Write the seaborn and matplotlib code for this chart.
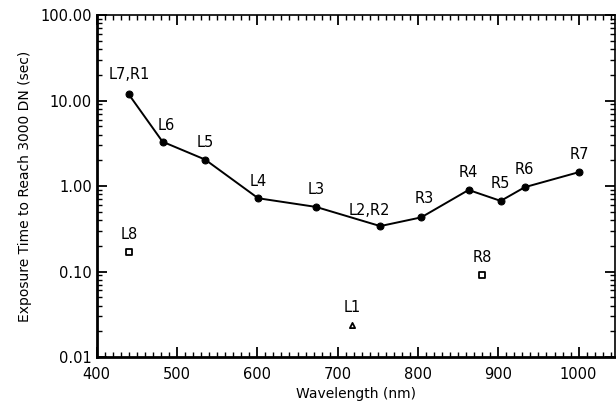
import numpy as np
import pandas as pd
import matplotlib
matplotlib.use("Agg")
import matplotlib.pyplot as plt
import seaborn as sns
from matplotlib.ticker import FixedLocator, MultipleLocator, FormatStrFormatter, LogLocator, NullFormatter

sns.set_style("ticks", {"axes.edgecolor": "black", "text.color": "black",
                        "xtick.color": "black", "ytick.color": "black",
                        "axes.labelcolor": "black"})
plt.rcParams["font.family"] = ["DejaVu Sans"]

# Filters on the main curve
line_labels = ["L7,R1", "L6", "L5", "L4", "L3", "L2,R2", "R3", "R4", "R5", "R6", "R7"]
line_wave = [440, 482, 535, 601, 673, 753, 804, 863, 903, 933, 1001]
line_time = [11.8, 3.3, 2.04, 0.72, 0.57, 0.34, 0.43, 0.90, 0.67, 0.97, 1.46]

# Isolated filters
extra_labels = ["L8", "L1", "R8"]
extra_wave = [440, 718, 880]
extra_time = [0.17, 0.024, 0.092]
extra_marker = ["s", "^", "s"]

df_line = pd.DataFrame({"wave": line_wave, "time": line_time, "label": line_labels})
df_extra = pd.DataFrame({"wave": extra_wave, "time": extra_time, "label": extra_labels,
                         "marker": extra_marker})

fig = plt.figure(figsize=(6.16, 4.08), dpi=100)
ax = fig.add_axes([0.157, 0.125, 0.841, 0.838])

sns.lineplot(data=df_line, x="wave", y="time", color="black", linewidth=1.4,
             marker="o", markersize=5, markeredgecolor="black", ax=ax)
for _, r in df_extra.iterrows():
    sns.scatterplot(x=[r["wave"]], y=[r["time"]], marker=r["marker"], s=14,
                    facecolor="white", edgecolor="black", linewidth=1.3, ax=ax)

ax.set_yscale("log")
ax.set_xlim(400, 1045)
ax.set_ylim(0.01, 100)

# point labels
offsets = {"L7,R1": (0, 9), "L6": (3, 6), "L2,R2": (-8, 6), "R3": (2, 8)}
for _, r in pd.concat([df_line, df_extra]).iterrows():
    dx, dy = offsets.get(r["label"], (0, 7))
    ax.annotate(r["label"], (r["wave"], r["time"]), xytext=(dx, dy),
                textcoords="offset points", ha="center", va="bottom", fontsize=10.5,
                color="black")

ax.xaxis.set_major_locator(MultipleLocator(100))
ax.xaxis.set_minor_locator(MultipleLocator(10))
ax.yaxis.set_major_locator(FixedLocator([0.01, 0.1, 1, 10, 100]))
ax.yaxis.set_major_formatter(FormatStrFormatter("%.2f"))
ax.yaxis.set_minor_locator(LogLocator(base=10, subs=np.arange(2, 10)))
ax.yaxis.set_minor_formatter(NullFormatter())

ax.tick_params(which="both", direction="in", top=True, right=True, labelsize=10.5)
ax.tick_params(which="major", length=7, width=1.3)
ax.tick_params(which="minor", length=3.5, width=1)
ax.tick_params(axis="x", pad=7)

for side in ["left", "bottom"]:
    ax.spines[side].set_linewidth(2)
for side in ["top", "right"]:
    ax.spines[side].set_linewidth(1.2)

ax.set_xlabel("Wavelength (nm)", fontsize=10)
ax.set_ylabel("Exposure Time to Reach 3000 DN (sec)", fontsize=10, labelpad=6)

fig.savefig("out.png", dpi=100)
